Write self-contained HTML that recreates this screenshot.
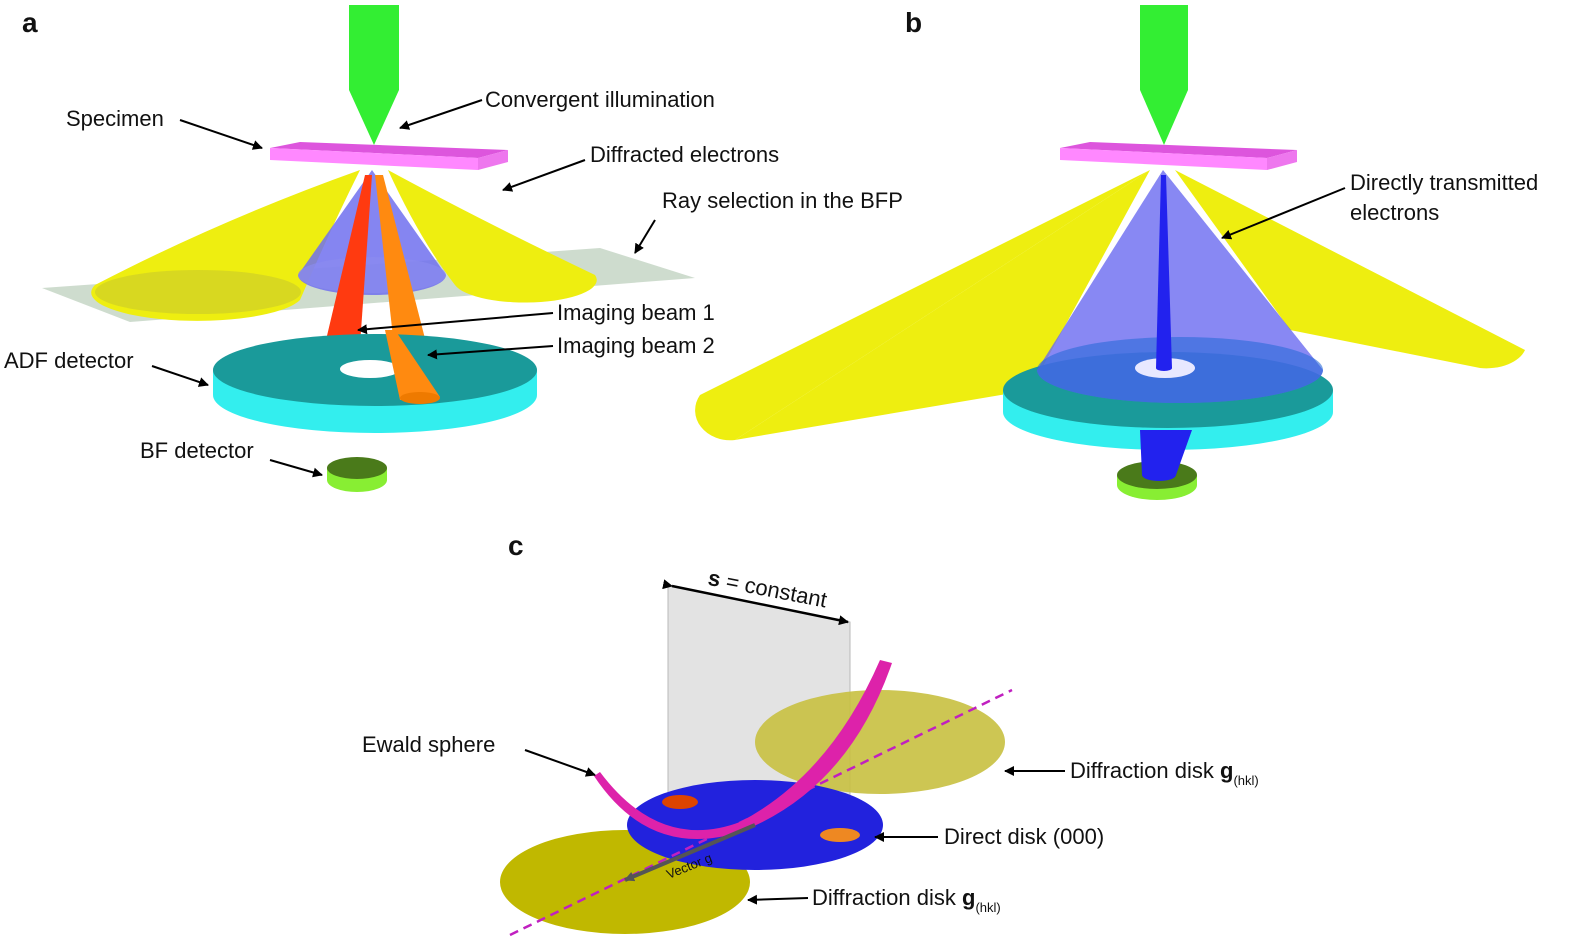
<!DOCTYPE html>
<html><head><meta charset="utf-8"><style>
body{margin:0;background:#fff}
svg{display:block}
text{font-family:"Liberation Sans",sans-serif;font-size:22px;fill:#111}
.b{font-weight:bold;font-size:28px}
</style></head><body>
<svg width="1575" height="952" viewBox="0 0 1575 952">
<defs>
<marker id="ah" markerWidth="10" markerHeight="10" refX="9" refY="5" orient="auto" markerUnits="userSpaceOnUse"><path d="M0,0 L10,5 L0,10 Z" fill="#000"/></marker>
<marker id="ah2" markerWidth="10" markerHeight="10" refX="9" refY="5" orient="auto" markerUnits="userSpaceOnUse"><path d="M0,0 L10,5 L0,10 Z" fill="#555"/></marker>
</defs>
<text x="22" y="32" class="b">a</text>
<text x="905" y="32" class="b">b</text>
<text x="508" y="555" class="b">c</text>

<!-- Panel a -->
<polygon points="42,288 600,248 695,278 130,322" fill="#c5d6c5" opacity="0.85"/>
<path d="M360,170 Q220,220 95,285 A105,28 0 0 0 300,300 Q330,230 360,170 Z" fill="#eeee10"/>
<ellipse cx="198" cy="292" rx="103" ry="22" fill="#d8d820"/>
<path d="M388,170 Q420,240 455,285 A70,22 0 0 0 595,275 Q480,220 388,170 Z" fill="#eeee10"/>
<path d="M372,170 L298,275 A74,20 0 0 0 446,275 Z" fill="#7070ee" opacity="0.85"/>
<ellipse cx="372" cy="275" rx="74" ry="18" fill="#8a8af0" opacity="0.7"/>
<polygon points="365,175 372,175 360,345 326,340" fill="#ff3a10"/>
<ellipse cx="343" cy="342" rx="17" ry="6" fill="#dd2200"/>
<polygon points="375,175 383,175 440,397 400,400" fill="#ff8a10"/>
<path d="M213,370 L213,395 A162,38 0 0 0 537,395 L537,370 Z" fill="#33eeee"/>
<ellipse cx="375" cy="370" rx="162" ry="36" fill="#1a9a9a"/>
<ellipse cx="370" cy="369" rx="30" ry="9" fill="#fff"/>
<polygon points="395,330 440,397 400,400 385,330" fill="#ff8a10"/>
<ellipse cx="420" cy="398" rx="20" ry="6" fill="#ee7a00"/>
<path d="M327,468 L327,480 A30,12 0 0 0 387,480 L387,468 Z" fill="#88ee33"/>
<ellipse cx="357" cy="468" rx="30" ry="11" fill="#4a7a1a"/>
<polygon points="270,148 300,142 508,150 478,158" fill="#dd55dd"/>
<polygon points="270,148 478,158 478,170 270,160" fill="#ff88ff"/>
<polygon points="478,158 508,150 508,162 478,170" fill="#ee77ee"/>
<path d="M349,5 L399,5 L399,90 L374,145 L349,90 Z" fill="#33ee33"/>
<text x="485" y="107">Convergent illumination</text>
<line x1="482" y1="100" x2="400" y2="128" stroke="#000" stroke-width="2" marker-end="url(#ah)"/>
<text x="66" y="126">Specimen</text>
<line x1="180" y1="120" x2="262" y2="148" stroke="#000" stroke-width="2" marker-end="url(#ah)"/>
<text x="590" y="162">Diffracted electrons</text>
<line x1="585" y1="160" x2="503" y2="190" stroke="#000" stroke-width="2" marker-end="url(#ah)"/>
<text x="662" y="208">Ray selection in the BFP</text>
<line x1="655" y1="220" x2="635" y2="253" stroke="#000" stroke-width="2" marker-end="url(#ah)"/>
<text x="557" y="320">Imaging beam 1</text>
<line x1="553" y1="313" x2="358" y2="330" stroke="#000" stroke-width="2" marker-end="url(#ah)"/>
<text x="557" y="353">Imaging beam 2</text>
<line x1="553" y1="346" x2="428" y2="355" stroke="#000" stroke-width="2" marker-end="url(#ah)"/>
<text x="4" y="368">ADF detector</text>
<line x1="152" y1="366" x2="208" y2="385" stroke="#000" stroke-width="2" marker-end="url(#ah)"/>
<text x="140" y="458">BF detector</text>
<line x1="270" y1="460" x2="322" y2="475" stroke="#000" stroke-width="2" marker-end="url(#ah)"/>

<!-- Panel b -->
<path d="M1150,170 L700,395 A35,30 0 0 0 735,440 Z" fill="#eeee10"/>
<path d="M1150,170 L735,440 L1030,390 Z" fill="#eeee10"/>
<path d="M1175,170 L1525,350 A40,25 0 0 1 1480,368 L1290,330 Z" fill="#eeee10"/>
<path d="M1003,390 L1003,412 A165,38 0 0 0 1333,412 L1333,390 Z" fill="#33eeee"/>
<ellipse cx="1168" cy="390" rx="165" ry="38" fill="#1a9a9a"/>
<path d="M1163,170 L1037,370 A143,33 0 0 0 1323,370 Z" fill="#6a6af0" opacity="0.8"/>
<ellipse cx="1180" cy="370" rx="143" ry="33" fill="#2a6ad8" opacity="0.6"/>
<ellipse cx="1165" cy="368" rx="30" ry="10" fill="#e8e8ff"/>
<path d="M1117,475 L1117,485 A40,15 0 0 0 1197,485 L1197,475 Z" fill="#88ee33"/>
<ellipse cx="1157" cy="475" rx="40" ry="14" fill="#4a7a1a"/>
<path d="M1140,430 L1142,475 A17,6 0 0 0 1176,475 L1192,430 Z" fill="#2222ee"/>
<path d="M1161,175 L1166,175 L1172,368 A8,3 0 0 1 1156,368 Z" fill="#2222ee"/>
<polygon points="1060,148 1090,142 1297,150 1267,158" fill="#dd55dd"/>
<polygon points="1060,148 1267,158 1267,170 1060,160" fill="#ff88ff"/>
<polygon points="1267,158 1297,150 1297,162 1267,170" fill="#ee77ee"/>
<path d="M1140,5 L1188,5 L1188,90 L1164,145 L1140,90 Z" fill="#33ee33"/>
<text x="1350" y="190">Directly transmitted</text>
<text x="1350" y="220">electrons</text>
<line x1="1345" y1="188" x2="1222" y2="238" stroke="#000" stroke-width="2" marker-end="url(#ah)"/>

<!-- Panel c -->
<polygon points="668,585 850,622 850,830 668,830" fill="#ddd" opacity="0.8" stroke="#aaa"/>
<line x1="672" y1="586" x2="848" y2="622" stroke="#000" stroke-width="2.5" marker-end="url(#ah)" marker-start="url(#ah)"/>
<text x="705" y="595" transform="rotate(11 760 600)"><tspan font-weight="bold">s</tspan> = constant</text>
<ellipse cx="880" cy="742" rx="125" ry="52" fill="#c8c040" opacity="0.9"/>
<ellipse cx="625" cy="882" rx="125" ry="52" fill="#c0b800"/>
<ellipse cx="755" cy="825" rx="128" ry="45" fill="#2222dd"/>
<line x1="510" y1="935" x2="1012" y2="690" stroke="#c020c0" stroke-width="2.5" stroke-dasharray="9,6"/>
<ellipse cx="680" cy="802" rx="18" ry="7" fill="#dd4400"/>
<ellipse cx="840" cy="835" rx="20" ry="7" fill="#ee8822"/>
<path d="M600,772 Q660,852 740,822 Q830,775 880,660 L892,663 Q848,790 740,832 Q650,860 594,776 Z" fill="#dd22aa"/>
<line x1="755" y1="825" x2="625" y2="880" stroke="#555" stroke-width="4" marker-end="url(#ah2)"/>
<text x="665" y="870" style="font-size:13px" transform="rotate(-22 690 865)">Vector g</text>
<text x="362" y="752">Ewald sphere</text>
<line x1="525" y1="750" x2="595" y2="775" stroke="#000" stroke-width="2" marker-end="url(#ah)"/>
<text x="1070" y="778">Diffraction disk <tspan font-weight="bold">g</tspan><tspan style="font-size:13px" dy="7">(hkl)</tspan></text>
<line x1="1065" y1="771" x2="1005" y2="771" stroke="#000" stroke-width="2" marker-end="url(#ah)"/>
<text x="944" y="844">Direct disk (000)</text>
<line x1="938" y1="837" x2="875" y2="837" stroke="#000" stroke-width="2" marker-end="url(#ah)"/>
<text x="812" y="905">Diffraction disk <tspan font-weight="bold">g</tspan><tspan style="font-size:13px" dy="7">(hkl)</tspan></text>
<line x1="808" y1="898" x2="748" y2="900" stroke="#000" stroke-width="2" marker-end="url(#ah)"/>
</svg>
</body></html>
